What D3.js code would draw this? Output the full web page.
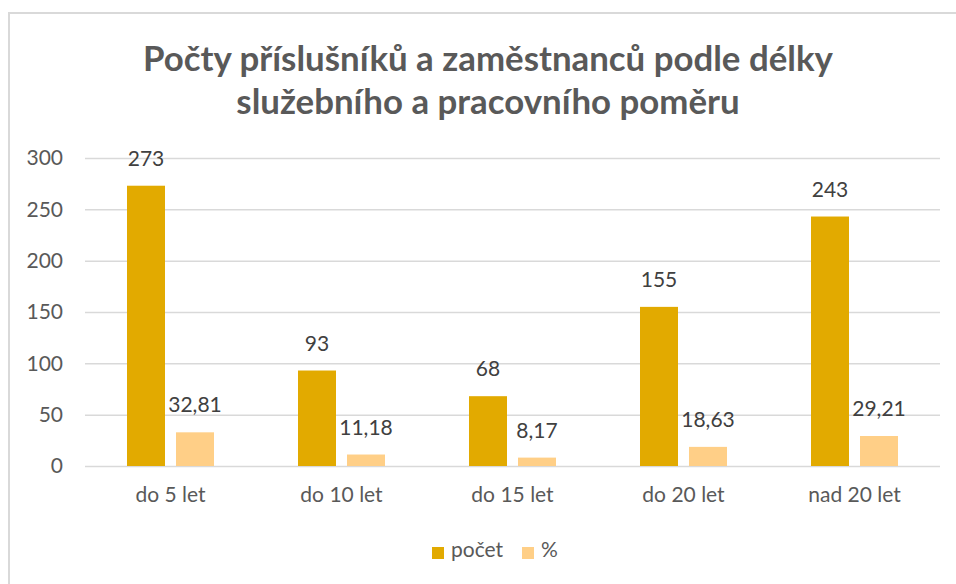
<!DOCTYPE html>
<html>
<head>
<meta charset="utf-8">
<script src="https://cdn.jsdelivr.net/npm/d3@7"></script>
<style>
  html, body { margin: 0; padding: 0; background: #fff; }
  svg { display: block; font-family: Lato, "Open Sans", sans-serif; }
</style>
</head>
<body>
<div id="chart"></div>
<script>
// Grouped bars: headcount and share by length of service.

const titleLines = ["Počty příslušníků a zaměstnanců podle délky", "služebního a pracovního poměru"];
const categories = ["do 5 let", "do 10 let", "do 15 let", "do 20 let", "nad 20 let"];
const seriesNames = ["počet", "%"];
const pocet = [273, 93, 68, 155, 243];
const procenta = [32.81, 11.18, 8.17, 18.63, 29.21];
const yTicks = [0, 50, 100, 150, 200, 250, 300];

const colors = { "počet": "#e2aa00", "%": "#ffcf87" };
const w = 956, h = 584;
const margin = { top: 158, right: 16, bottom: 118, left: 85 };

const rows = categories.map((c, i) => ({ cat: c, values: [pocet[i], procenta[i]] }));
const fmt = (v) => String(v).replace(".", ",");

const svg = d3.select("#chart").append("svg").attr("width", w).attr("height", h);

// chart frame
svg.append("rect")
  .attr("x", 9).attr("y", 13)
  .attr("width", w + 20).attr("height", h + 20)
  .attr("fill", "#fff").attr("stroke", "#d9d9d9").attr("stroke-width", 2);

const x0 = d3.scaleBand().domain(categories).range([margin.left, w - margin.right]);
const x1 = d3.scaleBand().domain(seriesNames).range([0, x0.bandwidth()])
  .paddingInner(0.2245).paddingOuter(0.857);
const y = d3.scaleLinear().domain([0, 300]).range([h - margin.bottom, margin.top]);

// title
const title = svg.append("text")
  .attr("text-anchor", "middle")
  .attr("fill", "#595959")
  .attr("font-weight", "bold")
  .attr("font-size", 26);
titleLines.forEach((t, i) => {
  title.append("tspan").attr("x", 488).attr("y", 71 + i * 43).text(t);
});
// fit first line to the reference width
const l1 = title.select("tspan").node().getComputedTextLength();
title.attr("font-size", 26 * 690 / l1);

// gridlines + y labels
svg.append("g")
  .attr("transform", `translate(${margin.left},0)`)
  .call(d3.axisLeft(y).tickValues(yTicks).tickSize(-(w - margin.right - margin.left)).tickPadding(22))
  .call((g) => g.select(".domain").remove())
  .call((g) => g.selectAll(".tick line").attr("stroke", "#d9d9d9").attr("stroke-width", 1.5))
  .call((g) => g.selectAll(".tick text").attr("fill", "#595959").attr("font-size", 21)
    .attr("font-family", "Lato, sans-serif"));

// x labels
svg.append("g")
  .attr("transform", `translate(0,${h - margin.bottom})`)
  .call(d3.axisBottom(x0).tickSize(0).tickPadding(21))
  .call((g) => g.select(".domain").remove())
  .call((g) => g.selectAll(".tick text").attr("fill", "#595959").attr("font-size", 21)
    .attr("font-family", "Lato, sans-serif"));

// bars
const groups = svg.append("g").selectAll("g")
  .data(rows)
  .join("g")
  .attr("transform", (d) => `translate(${x0(d.cat)},0)`);

groups.selectAll("rect")
  .data((d) => d.values.map((v, i) => ({ key: seriesNames[i], v })))
  .join("rect")
  .attr("x", (d) => x1(d.key))
  .attr("y", (d) => y(d.v))
  .attr("width", x1.bandwidth())
  .attr("height", (d) => y(0) - y(d.v))
  .attr("fill", (d) => colors[d.key]);

groups.selectAll("text.val")
  .data((d) => d.values.map((v, i) => ({ key: seriesNames[i], v })))
  .join("text")
  .attr("class", "val")
  .attr("x", (d) => x1(d.key) + x1.bandwidth() / 2)
  .attr("y", (d) => y(d.v) - 20)
  .attr("text-anchor", "middle")
  .attr("fill", "#404040")
  .attr("font-size", 21)
  .text((d) => fmt(d.v));

// legend
const legend = svg.append("g").attr("transform", "translate(432,547)");
const legendX = [0, 90];
seriesNames.forEach((s, i) => {
  const g = legend.append("g").attr("transform", `translate(${legendX[i]},0)`);
  g.append("rect").attr("width", 12).attr("height", 12).attr("fill", colors[s]);
  g.append("text").attr("x", 19).attr("y", 9.5).attr("fill", "#595959")
    .attr("font-size", 21).text(s);
});
</script>
</body>
</html>
